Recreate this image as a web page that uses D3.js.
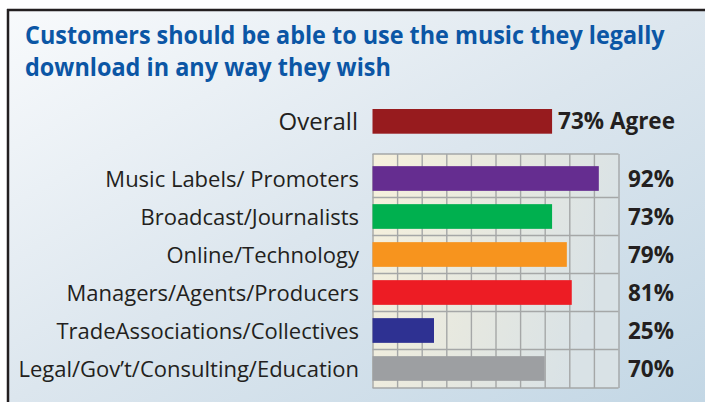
<!doctype html>
<html>

<head>
    <style>
        body { margin: 0; background: #fff; }
        svg { display: block; }
        .label { font-family: "Open Sans", "Noto Sans", sans-serif; fill: #231f20; }
        .pct { font-family: "Open Sans", "Noto Sans", sans-serif; font-weight: 700; fill: #231f20; }
        .title { font-family: "Open Sans", "Noto Sans", sans-serif; font-weight: 700; fill: #0b56a5; }
        .grid line { stroke: #a5a7a7; stroke-width: 1.4; }
    </style>
    <script src="https://d3js.org/d3.v7.min.js"></script>
</head>

<body>
    <svg width="705" height="402"></svg>
    <script>

        var titleLines = ["Customers should be able to use the music they legally",
                          "download in any way they wish"];

        var overallLabel = "Overall";
        var overallValue = 73;

        var categories = ["Music Labels/ Promoters", "Broadcast/Journalists", "Online/Technology",
                          "Managers/Agents/Producers", "TradeAssociations/Collectives",
                          "Legal/Gov\u2019t/Consulting/Education"];
        var values = [92, 73, 79, 81, 25, 70];
        var colors = ["#652d90", "#00b04f", "#f7941e", "#ed1c24", "#2e3192", "#9d9fa2"];
        var gridTicks = [0, 10, 20, 30, 40, 50, 60, 70, 80, 90, 100];

        var svg = d3.select("svg");
        var defs = svg.append("defs");

        // panel background
        var bg = defs.append("linearGradient").attr("id", "bg")
            .attr("x1", 0).attr("y1", 0).attr("x2", 1).attr("y2", 1);
        bg.append("stop").attr("offset", "0%").attr("stop-color", "#f8fafc");
        bg.append("stop").attr("offset", "50%").attr("stop-color", "#dce6ee");
        bg.append("stop").attr("offset", "100%").attr("stop-color", "#c3d7e5");

        var gridBg = defs.append("linearGradient").attr("id", "gridbg")
            .attr("x1", 0).attr("y1", 0).attr("x2", 1).attr("y2", 0.3);
        gridBg.append("stop").attr("offset", "0%").attr("stop-color", "#f7f1dc");
        gridBg.append("stop").attr("offset", "55%").attr("stop-color", "#e6e8e0");
        gridBg.append("stop").attr("offset", "100%").attr("stop-color", "#d9e2e6");

        svg.append("rect").attr("x", 8).attr("y", 10).attr("width", 697).attr("height", 392)
            .attr("fill", "url(#bg)");
        svg.append("line").attr("x1", 7).attr("x2", 705).attr("y1", 10).attr("y2", 10)
            .attr("stroke", "#231f20").attr("stroke-width", 2.5);
        svg.append("line").attr("x1", 8).attr("x2", 8).attr("y1", 9).attr("y2", 402)
            .attr("stroke", "#231f20").attr("stroke-width", 2.5);

        // title: squeeze the bold face horizontally to the condensed width of the original
        var titleWidths = [640, 366];
        var titleBase = [44, 76];
        titleLines.forEach(function (t, i) {
            var txt = svg.append("text").attr("class", "title")
                .attr("font-size", "25.5px")
                .text(t);
            var w = txt.node().getComputedTextLength();
            txt.attr("transform", "translate(25," + titleBase[i] + ") scale(" + (titleWidths[i] / w) + ",1)");
        });

        var gridTop = 154, gridBottom = 388;

        var x = d3.scaleLinear().domain([0, 100]).range([372.5, 618.5]);
        var y = d3.scaleBand().domain(categories).range([159.5, 387.5])
            .paddingInner(0.35).paddingOuter(0.175);

        // overall bar
        var overallY = 109;
        svg.append("rect")
            .attr("x", x(0)).attr("y", overallY)
            .attr("width", x(overallValue) - x(0)).attr("height", y.bandwidth())
            .attr("fill", "#971b1e");
        svg.append("text").attr("class", "label")
            .attr("x", 358).attr("y", overallY + y.bandwidth() / 2)
            .attr("dy", "0.38em").attr("text-anchor", "end").attr("font-size", "24px")
            .text(overallLabel);
        svg.append("text").attr("class", "pct")
            .attr("x", x(overallValue) + 6).attr("y", overallY + y.bandwidth() / 2)
            .attr("dy", "0.33em").attr("font-size", "22.5px")
            .text(overallValue + "% Agree");

        // grid
        svg.append("rect").attr("x", x(0)).attr("y", gridTop)
            .attr("width", x(100) - x(0)).attr("height", gridBottom - gridTop)
            .attr("fill", "url(#gridbg)");

        var grid = svg.append("g").attr("class", "grid");
        grid.append("g")
            .attr("transform", "translate(0," + gridTop + ")")
            .call(d3.axisTop(x).tickValues(gridTicks).tickSize(-(gridBottom - gridTop)).tickFormat(""))
            .call(g => g.select(".domain").remove());

        var rowLines = [gridTop].concat(categories.slice(1).map(c => y(c) - y.step() * y.paddingInner() / 2), [gridBottom]);
        grid.selectAll(".row")
            .data(rowLines)
            .enter().append("line")
            .attr("class", "row")
            .attr("x1", x(0)).attr("x2", x(100))
            .attr("y1", d => d).attr("y2", d => d);

        // bars
        svg.selectAll(".bar")
            .data(values)
            .enter().append("rect")
            .attr("class", "bar")
            .attr("x", x(0))
            .attr("y", (d, i) => y(categories[i]))
            .attr("width", d => x(d) - x(0))
            .attr("height", y.bandwidth())
            .attr("fill", (d, i) => colors[i]);

        svg.selectAll(".cat")
            .data(categories)
            .enter().append("text")
            .attr("class", "label cat")
            .attr("x", 359)
            .attr("y", d => y(d) + y.bandwidth() / 2)
            .attr("dy", "0.37em")
            .attr("text-anchor", "end")
            .attr("font-size", "22px")
            .text(d => d);

        svg.selectAll(".val")
            .data(values)
            .enter().append("text")
            .attr("class", "pct val")
            .attr("x", 628)
            .attr("y", (d, i) => y(categories[i]) + y.bandwidth() / 2)
            .attr("dy", "0.36em")
            .attr("font-size", "22.5px")
            .text(d => d + "%");
    </script>
</body>

</html>
